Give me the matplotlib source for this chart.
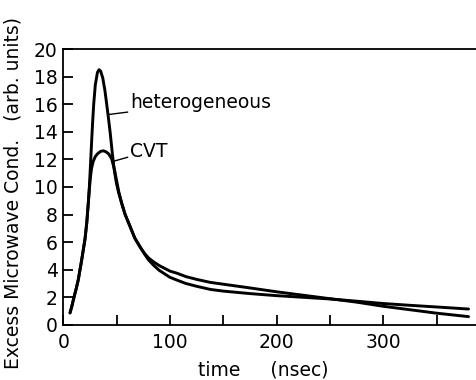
import matplotlib
matplotlib.use("Agg")
import matplotlib.pyplot as plt

t_het = [6.3, 8, 10, 12, 14, 17, 20.3, 22, 23.5, 24.5, 25.5, 26.5, 27.5, 28.5, 30, 32, 33.5, 35,
         37, 39, 40.7, 42, 44, 46, 48, 50, 52, 55, 58, 62.8, 67, 72, 76, 80, 85, 90, 100, 106.5,
         115, 125, 138, 150, 175, 200, 225, 250, 275, 300, 325, 350, 380]
y_het = [0.87, 1.35, 2.0, 2.6, 3.26, 4.6, 6.2, 7.4, 8.9, 10.1, 11.6, 13.2, 14.7, 16.0, 17.4, 18.3,
         18.5, 18.4, 17.9, 17.0, 16.0, 15.2, 13.9, 12.4, 11.1, 10.2, 9.55, 8.75, 8.0, 7.1, 6.3, 5.65,
         5.15, 4.7, 4.3, 3.95, 3.45, 3.25, 3.0, 2.8, 2.57, 2.45, 2.27, 2.12, 2.0, 1.88, 1.72, 1.55,
         1.42, 1.3, 1.15]

t_cvt = [6.3, 8, 10, 12, 14, 17, 20.3, 22, 23.5, 24.5, 25.5, 26.5, 28, 30, 32, 35, 37.5, 40, 42.5,
         45.3, 48, 50, 52, 55, 58, 62.8, 67, 72, 76, 80, 85, 90, 100, 106.5, 115, 125, 138, 150, 175,
         200, 225, 250, 275, 300, 325, 350, 380]
y_cvt = [0.87, 1.35, 2.0, 2.6, 3.26, 4.6, 6.2, 7.4, 8.9, 9.9, 10.75, 11.35, 11.85, 12.2, 12.4, 12.58,
         12.62, 12.55, 12.4, 12.05, 11.25, 10.45, 9.65, 8.75, 8.0, 7.1, 6.3, 5.65, 5.2, 4.85, 4.55,
         4.3, 3.9, 3.75, 3.5, 3.3, 3.08, 2.95, 2.68, 2.4, 2.15, 1.9, 1.65, 1.35, 1.1, 0.85, 0.6]

x_ticks = [0, 100, 200, 300]
x_minor = [50, 150, 250, 350]
y_ticks = [0, 2, 4, 6, 8, 10, 12, 14, 16, 18, 20]

plt.rcParams['font.family'] = ['DejaVu Sans']
fs = 13.5

fig = plt.figure(figsize=(4.76, 3.80), dpi=100)
ax = fig.add_axes([0.133, 0.145, 0.867, 0.726])
ax.plot(t_het, y_het, color='black', lw=2.1, solid_capstyle='round', solid_joinstyle='round')
ax.plot(t_cvt, y_cvt, color='black', lw=2.1, solid_capstyle='round', solid_joinstyle='round')

ax.set_xlim(0, 387)
ax.set_ylim(0, 20)
ax.set_xticks(x_ticks)
ax.set_xticks(x_minor, minor=True)
ax.set_yticks(y_ticks)
ax.tick_params(axis='both', which='both', direction='in', labelsize=fs, width=1.3)
ax.tick_params(axis='y', which='major', length=7, pad=4)
ax.tick_params(axis='x', which='major', length=7, pad=6)
ax.tick_params(axis='x', which='minor', length=7)
ax.spines['right'].set_visible(False)
for s in ['left', 'top', 'bottom']:
    ax.spines[s].set_linewidth(1.3)

ax.set_xlabel('time     (nsec)', fontsize=fs)
ax.xaxis.set_label_coords(0.485, -0.13)
ax.set_ylabel('Excess Microwave Cond.   (arb. units)', fontsize=13.5)
ax.yaxis.set_label_coords(-0.1, 0.478)

ax.annotate('heterogeneous', xy=(42.2, 15.25), xytext=(63, 16.1), fontsize=fs,
            va='center', ha='left',
            arrowprops=dict(arrowstyle='-', color='black', lw=1.0, shrinkA=0, shrinkB=0))
ax.annotate('CVT', xy=(46.5, 11.85), xytext=(63, 12.6), fontsize=fs,
            va='center', ha='left',
            arrowprops=dict(arrowstyle='-', color='black', lw=1.0, shrinkA=0, shrinkB=0))

fig.savefig('out.png', dpi=100)
